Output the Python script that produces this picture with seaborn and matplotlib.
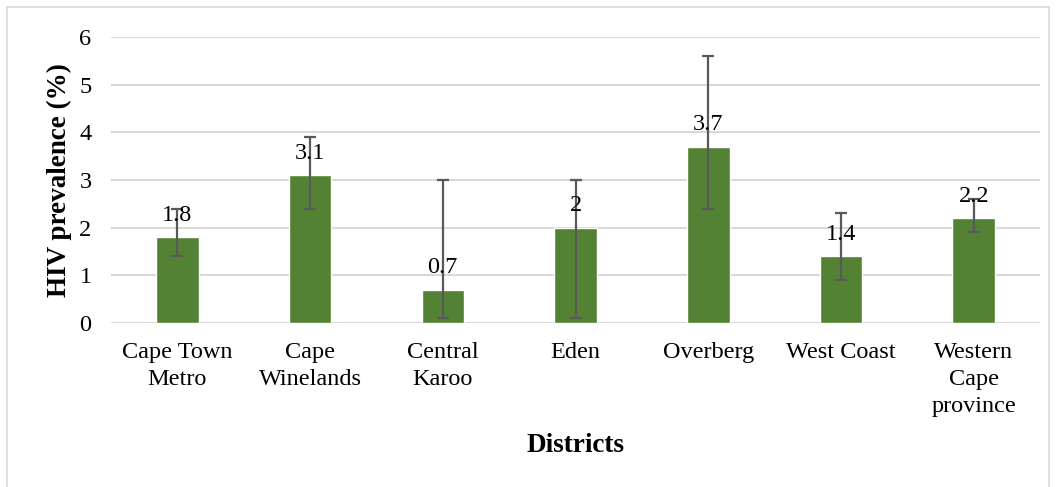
import numpy as np
import pandas as pd
import matplotlib
matplotlib.use("Agg")
import matplotlib.pyplot as plt
import seaborn as sns
from matplotlib.patches import Rectangle

districts = ["Cape Town\nMetro", "Cape\nWinelands", "Central\nKaroo", "Eden",
             "Overberg", "West Coast", "Western\nCape\nprovince"]
prevalence = [1.8, 3.1, 0.7, 2.0, 3.7, 1.4, 2.2]
ci_low = [1.4, 2.4, 0.1, 0.1, 2.4, 0.9, 1.9]
ci_high = [2.4, 3.9, 3.0, 3.0, 5.6, 2.3, 2.6]

sns.set_style("white")
plt.rcParams["font.family"] = ["Liberation Serif", "DejaVu Serif"]
plt.rcParams["text.color"] = "black"
plt.rcParams["axes.labelcolor"] = "black"
plt.rcParams["xtick.color"] = "black"
plt.rcParams["ytick.color"] = "black"

df = pd.DataFrame({"district": districts, "prevalence": prevalence})

fig = plt.figure(figsize=(10.57, 4.87), dpi=100)
ax = fig.add_axes([0.105, 0.337, 0.879, 0.587])

sns.barplot(data=df, x="district", y="prevalence", color="#548235",
            saturation=1, width=0.32, ax=ax, zorder=2)

x = np.arange(len(districts))
vals = np.array(prevalence)
yerr = np.vstack([vals - np.array(ci_low), np.array(ci_high) - vals])
ax.errorbar(x, vals, yerr=yerr, fmt="none", ecolor="#595959", elinewidth=1.6,
            capsize=4.5, capthick=1.6, zorder=3)

ax.bar_label(ax.containers[0], labels=[f"{v:g}" for v in prevalence],
             padding=8, fontsize=17.5, color="black", zorder=4)

ax.set_ylim(0, 6)
ax.set_xlim(-0.5, len(districts) - 0.5)
ax.set_yticks(range(0, 7))
ax.yaxis.grid(True, color="#d9d9d9", linewidth=1.5, zorder=0)
ax.set_axisbelow(True)
for s in ax.spines.values():
    s.set_visible(False)
ax.tick_params(axis="both", length=0, labelsize=17.5)
ax.tick_params(axis="x", pad=14)
ax.tick_params(axis="y", pad=14)
for lbl in ax.get_xticklabels():
    lbl.set_linespacing(1.35)

ax.set_ylabel("HIV prevalence (%)", fontsize=19.5, fontweight="bold", labelpad=5)
ax.set_xlabel("Districts", fontsize=19.5, fontweight="bold", labelpad=12)

fig.patches.append(Rectangle((7 / 1057, -0.01), 1042 / 1057, 1 - 7 / 487 + 0.01,
                             transform=fig.transFigure, fill=False,
                             edgecolor="#d9d9d9", linewidth=1.2))

fig.savefig("out.png", dpi=100)
